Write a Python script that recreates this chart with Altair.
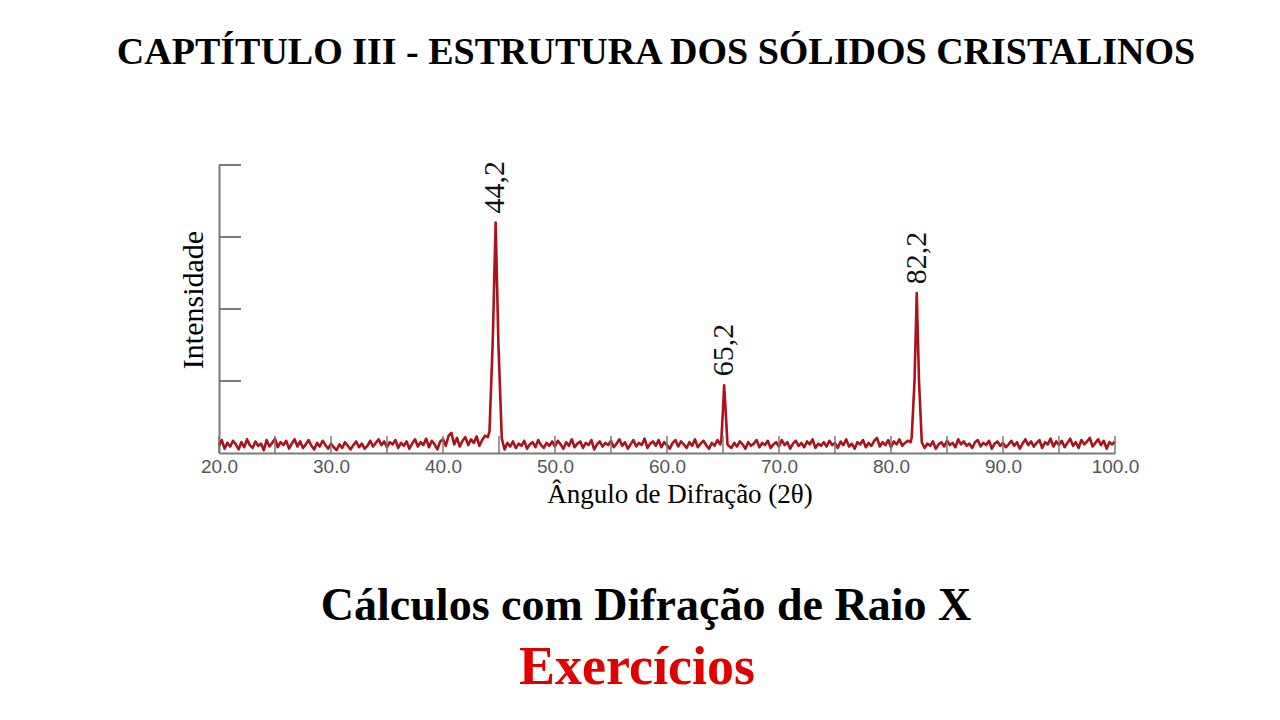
import altair as alt
import pandas as pd

# ---------------- data ----------------
x_start = 20.0
x_step = 0.25
noise = [
    # 20.0 - 24.75
    0.10, 0.18, 0.06, 0.14, 0.09, 0.17, 0.12, 0.05, 0.15, 0.08, 0.19, 0.11, 0.07, 0.16, 0.10, 0.13, 0.04, 0.18, 0.09, 0.14,
    # 25.0 - 29.75
    0.20, 0.08, 0.15, 0.11, 0.17, 0.06, 0.13, 0.19, 0.09, 0.16, 0.07, 0.12, 0.18, 0.10, 0.05, 0.14, 0.09, 0.17, 0.11, 0.06,
    # 30.0 - 34.75
    0.13, 0.08, 0.04, 0.12, 0.07, 0.15, 0.10, 0.05, 0.11, 0.16, 0.08, 0.13, 0.06, 0.10, 0.17, 0.09, 0.14, 0.19, 0.11, 0.16,
    # 35.0 - 39.75
    0.08, 0.15, 0.12, 0.18, 0.07, 0.14, 0.10, 0.16, 0.06, 0.13, 0.19, 0.09, 0.15, 0.11, 0.20, 0.08, 0.17, 0.12, 0.05, 0.16,
    # 40.0 - 44.75
    0.19, 0.10, 0.24, 0.28, 0.12, 0.21, 0.09, 0.17, 0.22, 0.11, 0.19, 0.14, 0.23, 0.10, 0.18, 0.24, 0.22, 0.20, 0.20, 0.20,
    # 45.0 - 49.75
    0.15, 0.12, 0.05, 0.14, 0.09, 0.16, 0.07, 0.13, 0.10, 0.17, 0.06, 0.12, 0.15, 0.08, 0.18, 0.11, 0.07, 0.14, 0.10, 0.16,
    # 50.0 - 54.75
    0.09, 0.17, 0.12, 0.06, 0.15, 0.10, 0.19, 0.08, 0.13, 0.16, 0.07, 0.14, 0.11, 0.18, 0.05, 0.12, 0.16, 0.09, 0.14, 0.11,
    # 55.0 - 59.75
    0.17, 0.08, 0.13, 0.19, 0.10, 0.15, 0.06, 0.12, 0.18, 0.09, 0.14, 0.11, 0.20, 0.07, 0.13, 0.16, 0.10, 0.18, 0.08, 0.15,
    # 60.0 - 64.75
    0.11, 0.06, 0.14, 0.18, 0.09, 0.16, 0.12, 0.07, 0.15, 0.10, 0.19, 0.08, 0.13, 0.17, 0.11, 0.06, 0.14, 0.10, 0.18, 0.12,
    # 65.0 - 69.75
    0.20, 0.20, 0.10, 0.07, 0.14, 0.09, 0.16, 0.12, 0.06, 0.15, 0.10, 0.13, 0.18, 0.08, 0.14, 0.11, 0.17, 0.07, 0.12, 0.15,
    # 70.0 - 74.75
    0.09, 0.18, 0.11, 0.15, 0.06, 0.13, 0.17, 0.10, 0.14, 0.08, 0.16, 0.12, 0.19, 0.07, 0.13, 0.10, 0.15, 0.09, 0.17, 0.11,
    # 75.0 - 79.75
    0.14, 0.07, 0.16, 0.11, 0.19, 0.09, 0.13, 0.06, 0.15, 0.12, 0.18, 0.08, 0.14, 0.10, 0.17, 0.21, 0.09, 0.15, 0.11, 0.18,
    # 80.0 - 84.75
    0.08, 0.16, 0.12, 0.19, 0.10, 0.14, 0.17, 0.15, 0.20, 0.20, 0.20, 0.20, 0.07, 0.13, 0.10, 0.16, 0.06, 0.12, 0.15, 0.09,
    # 85.0 - 89.75
    0.17, 0.11, 0.14, 0.08, 0.19, 0.12, 0.16, 0.10, 0.13, 0.07, 0.15, 0.18, 0.09, 0.14, 0.11, 0.17, 0.06, 0.13, 0.16, 0.10,
    # 90.0 - 94.75
    0.14, 0.08, 0.12, 0.17, 0.10, 0.15, 0.06, 0.13, 0.19, 0.11, 0.16, 0.09, 0.14, 0.18, 0.07, 0.15, 0.12, 0.20, 0.09, 0.16,
    # 95.0 - 99.75
    0.11, 0.17, 0.08, 0.14, 0.20, 0.10, 0.15, 0.07, 0.18, 0.12, 0.16, 0.21, 0.09, 0.14, 0.19, 0.11, 0.17, 0.06, 0.15, 0.12,
    # 100.0
    0.16,
]

peak1_x = [44.15, 44.45, 44.7, 44.95, 45.25]
peak1_y = [0.30, 1.60, 3.20, 1.50, 0.20]
peak2_x = [64.85, 65.0, 65.1, 65.25, 65.4]
peak2_y = [0.18, 0.60, 0.94, 0.55, 0.12]
peak3_x = [81.85, 82.1, 82.3, 82.5, 82.75]
peak3_y = [0.22, 1.00, 2.22, 1.00, 0.15]

label_x = [44.6, 65.1, 82.3]
label_y = [3.2, 0.94, 2.22]
label_text = ["44,2", "65,2", "82,2"]

x_label_values = [20, 30, 40, 50, 60, 70, 80, 90, 100]
x_tick_values = [20, 25, 30, 35, 40, 45, 50, 55, 60, 65, 70, 75, 80, 85, 90, 95, 100]
y_tick_values = [1, 2, 3, 4]

title_text = "CAPTÍTULO III - ESTRUTURA DOS SÓLIDOS CRISTALINOS"
x_title = "Ângulo de Difração (2θ)"
y_title = "Intensidade"
sub1 = "Cálculos com Difração de Raio X"
sub2 = "Exercícios"

# ---------------- build table ----------------
peaks = [(peak1_x, peak1_y), (peak2_x, peak2_y), (peak3_x, peak3_y)]
rows = []
for i, v in enumerate(noise):
    xv = round(x_start + x_step * i, 2)
    if any(px[0] <= xv <= px[-1] for px, _ in peaks):
        continue
    rows.append((xv, v))
for px, py in peaks:
    rows.extend(zip(px, py))
rows.sort()
line_df = pd.DataFrame(rows, columns=["x", "y"])

W, H = 896, 288
SERIF = "Liberation Serif"
LINE_COLOR = "#ad1119"
AXIS_COLOR = "#7a7a7a"

xscale = alt.Scale(domain=[20, 100], nice=False, zero=False)
yscale = alt.Scale(domain=[0, 4], nice=False)
xaxis = alt.Axis(values=x_label_values, format=".1f", title=None, grid=False, ticks=False,
                 domainColor=AXIS_COLOR, domainWidth=2, labelFont="Liberation Sans",
                 labelFontSize=19, labelColor="#555555", labelPadding=4, labelFlush=False,
                 labelOverlap=False)
yaxis = alt.Axis(title=None, grid=False, ticks=False, labels=False,
                 domainColor=AXIS_COLOR, domainWidth=2)
xenc = alt.X("x:Q", scale=xscale, axis=xaxis)
yenc = alt.Y("y:Q", scale=yscale, axis=yaxis)

line = alt.Chart(line_df).mark_line(color=LINE_COLOR, strokeWidth=2.6, strokeJoin="round").encode(
    x=xenc, y=yenc, order="x:Q")

xticks = alt.Chart(pd.DataFrame({"x": x_tick_values})).mark_rule(
    color=AXIS_COLOR, strokeWidth=1.5).encode(x=xenc, y=alt.value(H), y2=alt.value(H - 17))

yticks = alt.Chart(pd.DataFrame({"y": y_tick_values})).mark_rule(
    color=AXIS_COLOR, strokeWidth=2).encode(y=yenc, x=alt.value(0), x2=alt.value(22))

labels = alt.Chart(pd.DataFrame({"x": label_x, "y": label_y, "t": label_text})).mark_text(
    angle=270, align="left", baseline="middle", font=SERIF, fontSize=30, color="#111111", dx=9
).encode(x=xenc, y=yenc, text="t:N")


def txt(s, x, y, size, color="#000000", bold=False, angle=0):
    return alt.Chart(pd.DataFrame({"t": [s]})).mark_text(
        font=SERIF, fontSize=size, color=color, fontWeight="bold" if bold else "normal",
        align="center", baseline="middle", angle=angle
    ).encode(text="t:N", x=alt.value(x), y=alt.value(y))


texts = [
    txt(title_text, 437, -112, 38, bold=True),
    txt(y_title, -25, 135, 30, angle=270),
    txt(x_title, 461, 330, 27),
    txt(sub1, 427, 441, 46, bold=True),
    txt(sub2, 418, 503, 54, color="#e00000", bold=True),
]

chart = alt.layer(line, xticks, yticks, labels, *texts).properties(
    width=W, height=H,
    autosize=alt.AutoSizeParams(type="none"),
    padding={"left": 211, "top": 157, "right": 157, "bottom": 259},
    background="white",
).configure_view(stroke=None)

chart.save("out.html", embed_options={"renderer": "svg", "actions": False})
